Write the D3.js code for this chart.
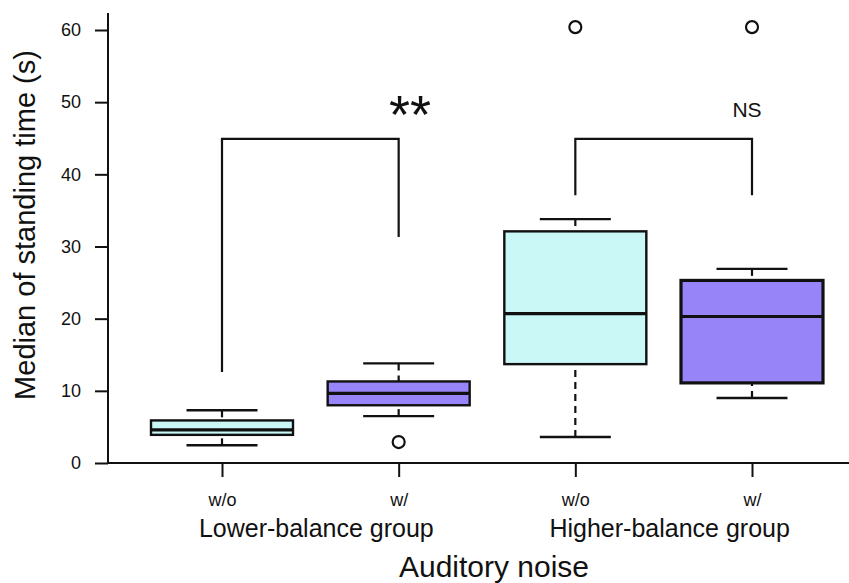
<!DOCTYPE html>
<html>
<head>
<meta charset="utf-8">
<script src="https://cdn.jsdelivr.net/npm/d3@7"></script>
<style>
  body { margin: 0; background: #fff; }
  svg { display: block; font-family: "Liberation Sans", Arial, sans-serif; }
</style>
</head>
<body>
<div id="chart"></div>
<script>
// box statistics
var noise = ['w/o', 'w/', 'w/o', 'w/'];
var groups = ['Lower-balance group', 'Higher-balance group'];
var whiskerLow = [2.45, 6.5, 3.6, 9.0];
var q1 = [3.9, 8.0, 13.7, 11.1];
var median = [4.6, 9.65, 20.7, 20.3];
var q3 = [5.9, 11.3, 32.1, 25.3];
var whiskerHigh = [7.3, 13.8, 33.8, 26.9];
var outliers = [[], [2.9], [60.4], [60.4]];
var yTicks = [0, 10, 20, 30, 40, 50, 60];

// significance brackets
var bracketPairs = [[0, 1], [2, 3]];
var bracketTop = [44.9, 44.9];
var bracketLegs = [[12.6, 31.3], [37.1, 37.1]];
var bracketLabels = ['**', 'NS'];

var width = 849, height = 583;
var fills = ['#c9f8f7', '#9784f8', '#c9f8f7', '#9784f8'];

var svg = d3.select('#chart')
  .append('svg')
  .attr('width', width)
  .attr('height', height);

var x = d3.scaleLinear()
  .domain([0, 3])
  .range([222, 752]);
var boxW = 142, capW = 71;

var y = d3.scaleLinear()
  .domain([0, 60])
  .range([463, 30]);

var ink = '#111';

// axes
var yAxis = svg.append('g')
  .attr('transform', 'translate(108,0)')
  .call(d3.axisLeft(y).tickValues(yTicks).tickSize(13).tickPadding(14));
yAxis.select('.domain').remove();
yAxis.selectAll('line').attr('stroke', ink).attr('stroke-width', 2);
yAxis.selectAll('text')
  .attr('font-size', 18)
  .attr('fill', ink)
  .attr('font-family', '"Liberation Sans", Arial, sans-serif');

svg.append('line')
  .attr('x1', 108).attr('x2', 108)
  .attr('y1', 13).attr('y2', y(0) + 1)
  .attr('stroke', ink).attr('stroke-width', 2);
svg.append('line')
  .attr('x1', 107).attr('x2', width)
  .attr('y1', y(0)).attr('y2', y(0))
  .attr('stroke', ink).attr('stroke-width', 2);

var xAxis = svg.append('g')
  .attr('transform', 'translate(0,' + y(0) + ')')
  .call(d3.axisBottom(x).tickValues([0, 1, 2, 3]).tickSize(14).tickPadding(16)
    .tickFormat(function (d) { return noise[d]; }));
xAxis.select('.domain').remove();
xAxis.selectAll('line').attr('stroke', ink).attr('stroke-width', 2);
xAxis.selectAll('text')
  .attr('font-size', 18)
  .attr('fill', ink)
  .attr('font-family', '"Liberation Sans", Arial, sans-serif');

// group labels
svg.selectAll('.group-label')
  .data(groups)
  .enter()
  .append('text')
  .attr('class', 'group-label')
  .attr('x', function (d, i) { return (x(i * 2) + x(i * 2 + 1)) / 2 + 6; })
  .attr('y', 537)
  .attr('text-anchor', 'middle')
  .attr('font-size', 25)
  .attr('fill', ink)
  .text(function (d) { return d; });

svg.append('text')
  .attr('x', 494)
  .attr('y', 577)
  .attr('text-anchor', 'middle')
  .attr('font-size', 30)
  .attr('fill', ink)
  .text('Auditory noise');

svg.append('text')
  .attr('transform', 'translate(35,225) rotate(-90)')
  .attr('text-anchor', 'middle')
  .attr('font-size', 29)
  .attr('fill', ink)
  .text('Median of standing time (s)');

// boxes
var boxes = svg.selectAll('.box')
  .data(noise)
  .enter()
  .append('g')
  .attr('class', 'box');

// whiskers, drawn from cap toward the box
boxes.append('line')
  .attr('x1', function (d, i) { return x(i); })
  .attr('x2', function (d, i) { return x(i); })
  .attr('y1', function (d, i) { return y(whiskerLow[i]); })
  .attr('y2', function (d, i) { return y(q1[i]); })
  .attr('stroke', ink).attr('stroke-width', 2.2)
  .attr('stroke-dasharray', '7,5');
boxes.append('line')
  .attr('x1', function (d, i) { return x(i); })
  .attr('x2', function (d, i) { return x(i); })
  .attr('y1', function (d, i) { return y(whiskerHigh[i]); })
  .attr('y2', function (d, i) { return y(q3[i]); })
  .attr('stroke', ink).attr('stroke-width', 2.2)
  .attr('stroke-dasharray', '7,5');

// caps
[whiskerLow, whiskerHigh].forEach(function (arr) {
  boxes.append('line')
    .attr('x1', function (d, i) { return x(i) - capW / 2; })
    .attr('x2', function (d, i) { return x(i) + capW / 2; })
    .attr('y1', function (d, i) { return y(arr[i]); })
    .attr('y2', function (d, i) { return y(arr[i]); })
    .attr('stroke', ink).attr('stroke-width', 2.4);
});

boxes.append('rect')
  .attr('x', function (d, i) { return x(i) - boxW / 2; })
  .attr('y', function (d, i) { return y(q3[i]); })
  .attr('width', boxW)
  .attr('height', function (d, i) { return y(q1[i]) - y(q3[i]); })
  .attr('fill', function (d, i) { return fills[i]; })
  .attr('stroke', ink)
  .attr('stroke-width', function (d, i) { return i === 3 ? 3.2 : 2.4; });

boxes.append('line')
  .attr('x1', function (d, i) { return x(i) - boxW / 2; })
  .attr('x2', function (d, i) { return x(i) + boxW / 2; })
  .attr('y1', function (d, i) { return y(median[i]); })
  .attr('y2', function (d, i) { return y(median[i]); })
  .attr('stroke', ink).attr('stroke-width', 3.2);

// outliers
boxes.selectAll('circle')
  .data(function (d, i) { return outliers[i].map(function (v) { return { i: i, v: v }; }); })
  .enter()
  .append('circle')
  .attr('cx', function (d) { return x(d.i); })
  .attr('cy', function (d) { return y(d.v); })
  .attr('r', 6)
  .attr('fill', '#fff')
  .attr('stroke', ink)
  .attr('stroke-width', 2.2);

// brackets
bracketPairs.forEach(function (p, k) {
  var path = d3.path();
  path.moveTo(x(p[0]), y(bracketLegs[k][0]));
  path.lineTo(x(p[0]), y(bracketTop[k]));
  path.lineTo(x(p[1]), y(bracketTop[k]));
  path.lineTo(x(p[1]), y(bracketLegs[k][1]));
  svg.append('path')
    .attr('d', path.toString())
    .attr('fill', 'none')
    .attr('stroke', ink)
    .attr('stroke-width', 2.2);
});

svg.append('text')
  .attr('x', 410)
  .attr('y', 133)
  .attr('text-anchor', 'middle')
  .attr('font-size', 54)
  .attr('fill', ink)
  .text(bracketLabels[0]);

svg.append('text')
  .attr('x', 747)
  .attr('y', 117)
  .attr('text-anchor', 'middle')
  .attr('font-size', 21)
  .attr('fill', ink)
  .text(bracketLabels[1]);
</script>
</body>
</html>
